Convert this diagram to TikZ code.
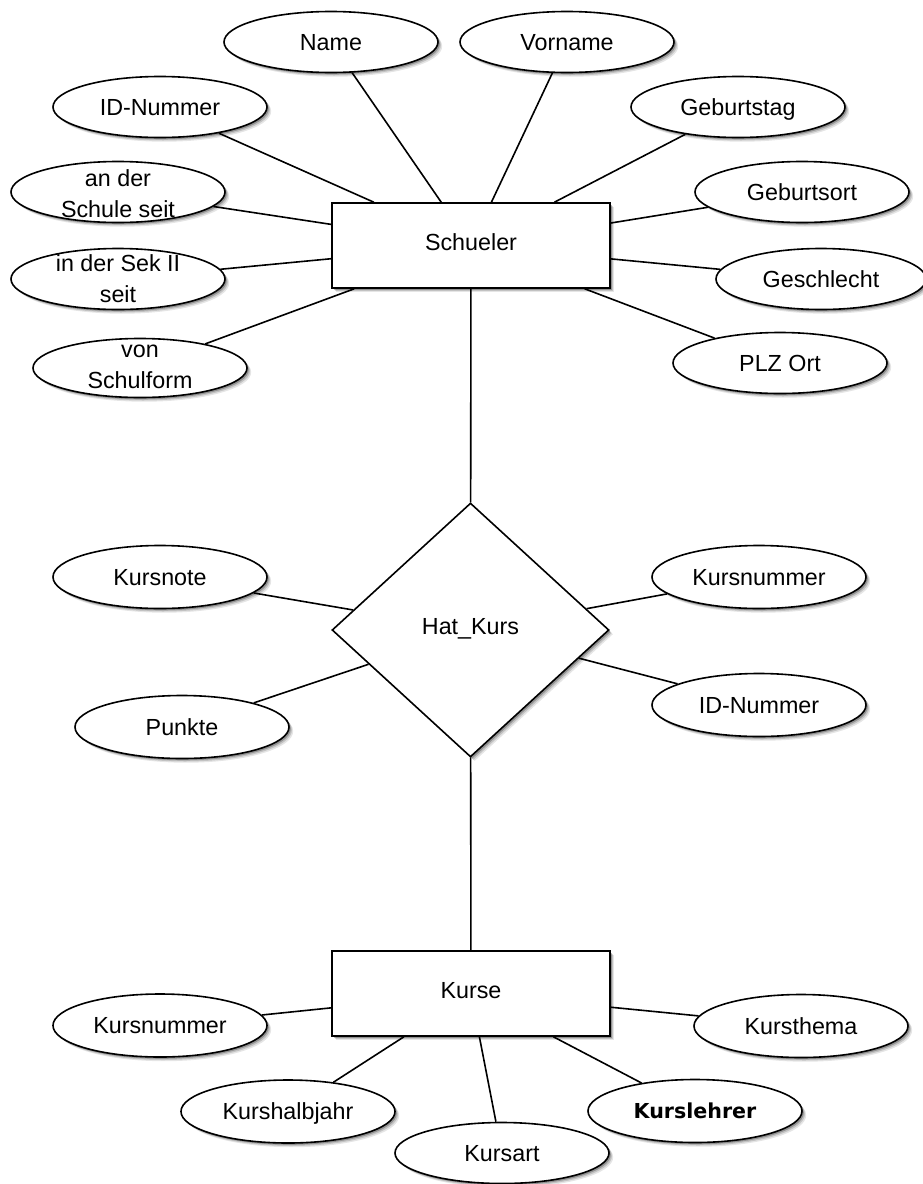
\documentclass[tikz,border=0pt]{standalone}
\usepackage{fontspec}
\setmainfont{Liberation Sans}
\newfontfamily\klfont{DejaVu Sans}
\usetikzlibrary{shapes.geometric,shadows}
\newcommand{\twolines}[3][-1.5pt]{\raisebox{#1}[0pt][0pt]{\begin{tabular}{@{}c@{}}#2\\#3\end{tabular}}}
\begin{document}
\begin{tikzpicture}[x=1pt,y=-1pt,
  base/.style={draw=black, fill=white, line width=1.6pt, inner sep=0pt,
    font=\fontsize{23.3}{31}\selectfont, text height=16.5pt, text depth=0pt,
    drop shadow={shadow xshift=4.2pt, shadow yshift=-4.2pt, opacity=0.10, fill=black},
    drop shadow={shadow xshift=3pt, shadow yshift=-3pt, opacity=0.15, fill=black},
    drop shadow={shadow xshift=1.8pt, shadow yshift=-1.8pt, opacity=0.25, fill=black}},
  attr/.style={base, ellipse, minimum width=214pt, minimum height=61pt},
  entity/.style={base, rectangle, minimum width=278pt, minimum height=85pt, text depth=7pt},
  rel/.style={base, diamond, minimum width=277pt, minimum height=254pt, text depth=7pt},
  conn/.style={line width=1.6pt, black}]
\fill[white] (0,0) rectangle (922,1184);
\useasboundingbox (0,0) rectangle (922,1184);

% entities and relationship
\node[entity] (schueler) at (471,245.5) {Schueler};
\node[rel] (hatkurs) at (470.5,630) {Hat\_Kurs};
\node[entity] (kurse) at (471,993.5) {Kurse};

% Schueler attributes
\node[attr] (name) at (331,42) {Name};
\node[attr] (vorname) at (567,42) {Vorname};
\node[attr] (idnr) at (160,107) {ID-Nummer};
\node[attr] (gebtag) at (738,107) {Geburtstag};
\node[attr] (schulseit) at (118,192) {\twolines{an der}{Schule seit}};
\node[attr] (gebort) at (802,192) {Geburtsort};
\node[attr] (sekseit) at (118,279) {\twolines[0.5pt]{in der Sek II}{seit}};
\node[attr, minimum width=210pt] (geschlecht) at (821,279) {Geschlecht};
\node[attr, minimum height=59pt] (schulform) at (140,368) {\twolines[3pt]{von}{Schulform}};
\node[attr] (plzort) at (780,363) {PLZ Ort};

% Hat_Kurs attributes
\node[attr, minimum height=63pt] (kursnote) at (160,577) {Kursnote};
\node[attr, minimum height=63pt] (punkte) at (182,727) {Punkte};
\node[attr, minimum height=63pt] (hknr) at (759,577) {Kursnummer};
\node[attr, minimum height=63pt] (hkid) at (759,705) {ID-Nummer};

% Kurse attributes
\node[attr, minimum height=63pt] (knr) at (160,1025.5) {Kursnummer};
\node[attr, minimum height=63pt] (kthema) at (801,1026) {Kursthema};
\node[attr, minimum height=63pt] (khalb) at (288,1111.5) {Kurshalbjahr};
\node[attr] (kart) at (502,1153) {Kursart};
\node[attr, minimum height=63pt, font=\klfont\bfseries\fontsize{20.6}{25}\selectfont, text height=15pt] (klehrer) at (695,1111) {Kurslehrer};

% connectors
\foreach \a in {name,vorname,idnr,gebtag,schulseit,gebort,sekseit,geschlecht,schulform,plzort}
  \draw[conn] (\a) -- (schueler);
\foreach \a in {kursnote,punkte,hknr,hkid}
  \draw[conn] (\a) -- (hatkurs);
\foreach \a in {knr,kthema,khalb,kart,klehrer}
  \draw[conn] (\a) -- (kurse);
\draw[conn] (schueler) -- (hatkurs);
\draw[conn] (hatkurs) -- (kurse);
\end{tikzpicture}
\end{document}
